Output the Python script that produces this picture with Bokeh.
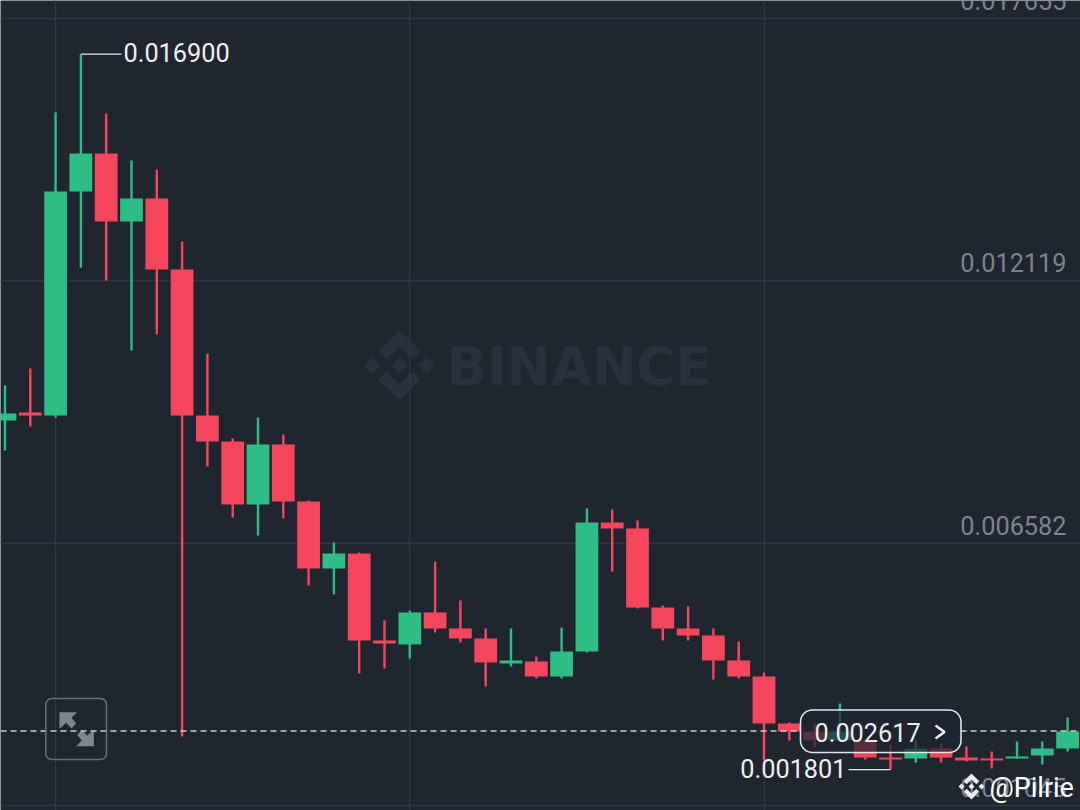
from bokeh.plotting import figure
from bokeh.models import Range1d, FixedTicker, BoxAnnotation
from bokeh.core.properties import value
from bokeh.embed import file_html
from bokeh.resources import INLINE

OPEN = [.009170,.009338,.009275,.014002,.014804,.013369,.013855,.012356,.009275,.008726,
        .007397,.008663,.007460,.006046,.006363,.004527,.004443,.005118,.004780,.004569,
        .004042,.004084,.003767,.004295,.007017,.006891,.005223,.004780,.004633,.004105,
        .003767,.002775,.002607,.002417,.002417,.002058,.002037,.002248,.002058,.002037,
        .002037,.002100,.002248]
CLOSE = [.009317,.009275,.014002,.014804,.013369,.013855,.012356,.009275,.008726,.007397,
         .008663,.007460,.006046,.006363,.004527,.004464,.005118,.004780,.004569,.004063,
         .004105,.003767,.004295,.007017,.006891,.005223,.004780,.004633,.004105,.003767,
         .002775,.002607,.002417,.002607,.002058,.002016,.002248,.002058,.001995,.001995,
         .002079,.002248,.002607]
HIGH = [.009908,.010267,.015669,.016900,.015648,.014656,.014467,.012947,.010584,.008790,
        .009233,.008874,.007481,.006595,.006384,.004949,.005160,.006194,.005371,.004780,
        .004780,.004189,.004801,.007313,.007291,.007059,.005266,.005245,.004780,.004506,
        .003852,.002797,.002775,.003198,.002438,.002332,.002417,.002353,.002290,.002185,
        .002396,.002396,.002902]
LOW = [.008537,.009043,.009233,.012398,.012124,.010647,.010985,.002501,.008199,.007123,
       .006743,.007102,.005688,.005498,.003831,.003936,.004147,.004696,.004485,.003556,
       .003978,.003725,.003725,.004274,.005983,.005202,.004527,.004527,.003704,.003725,
       .001995,.002417,.002269,.002396,.002016,.001801,.001952,.001952,.001974,.001826,
       .002037,.001910,.002185]
TICK_VALUES = [0.017655, 0.012119, 0.006582, 0.001045]
TICK_LABELS = ["0.017655", "0.012119", "0.006582", "0.001045"]
TIME_GRID = [2, 16, 30]
LAST_PRICE = 0.002617
HIGH_MARK = 0.016900
LOW_MARK = 0.001801

BG, GREEN, RED = "#1f2630", "#2ebd85", "#f6465d"
GRID, AXIS_TEXT, WM = "#303744", "#7b8390", "#2b313c"
FONT = value("Roboto")

# page pixel <-> data helpers, used only for the decorative overlays
def fx(px): return (px - 4.5) / 25.3
def fy(py): return 0.001045 + (805 - py) * 2.1103e-5

W, H = 1080, 810
p = figure(width=W, height=H, output_backend="svg", toolbar_location=None,
           x_range=Range1d(fx(0), fx(1080)), y_range=Range1d(fy(810), fy(0)),
           background_fill_color=BG, border_fill_color=BG, min_border=0,
           outline_line_color=None)
p.xaxis.visible = False
p.yaxis.visible = False
p.xgrid.ticker = FixedTicker(ticks=TIME_GRID)
p.ygrid.ticker = FixedTicker(ticks=TICK_VALUES)
for g in (p.xgrid[0], p.ygrid[0]):
    g.grid_line_color = GRID
    g.grid_line_width = 1.3

# Binance watermark
def logo(cx, cy, s):
    chevron = [(0, -35), (21, -14), (13, -6), (0, -19), (-13, -6), (-21, -14)]
    shapes = [chevron, [(a, -b) for a, b in chevron]]
    for dx in (-27, 0, 27):
        shapes.append([(dx, -8), (dx + 8, 0), (dx, 8), (dx - 8, 0)])
    return ([[fx(cx + a * s) for a, b in sh] for sh in shapes],
            [[fy(cy + b * s) for a, b in sh] for sh in shapes])

xs, ys = logo(399, 365, 1)
p.patches(xs, ys, fill_color=WM, line_color=None, level="image")
p.text([fx(446)], [fy(366)], text=["BINANCE"], text_color=WM, text_font=value("DejaVu Sans"),
       text_font_style="bold", text_font_size="53px", text_align="left",
       text_baseline="middle", level="image")

# candles
idx = list(range(len(OPEN)))
colors = [GREEN if c >= o else RED for o, c in zip(OPEN, CLOSE)]
p.segment(idx, LOW, idx, HIGH, line_color=colors, line_width=2.4)
p.vbar(x=idx, bottom=[min(a, b) for a, b in zip(OPEN, CLOSE)],
       top=[max(a, b) for a, b in zip(OPEN, CLOSE)], width=0.9,
       fill_color=colors, line_color=None)

# price-axis labels inside the plot
tx = [fx(1066)] * len(TICK_VALUES)
p.text(tx, TICK_VALUES, text=TICK_LABELS, text_color=AXIS_TEXT, text_font=FONT,
       text_font_size="25.3px", text_align="right", text_baseline="middle", y_offset=-18)

# high / low markers
p.line([3, fx(121)], [HIGH_MARK, HIGH_MARK], line_color="#e6e7e9", line_width=1.3)
p.text([fx(123)], [HIGH_MARK], text=["0.016900"], text_color="#f0f0f0", text_font=FONT,
       text_font_size="25.3px", text_align="left", text_baseline="middle", y_offset=-2,
       level="overlay")
p.line([fx(848), 35], [LOW_MARK, LOW_MARK], line_color="#e6e7e9", line_width=1.3)
p.text([fx(846)], [LOW_MARK], text=["0.001801"], text_color="#f0f0f0", text_font=FONT,
       text_font_size="25.3px", text_align="right", text_baseline="middle", y_offset=-1,
       level="overlay")

# expand icon
arrow = [(-17.2, -17), (0.5, -17), (-5.2, -11.4), (-0.5, -5.7), (-5.2, -0.7), (-10.5, -6.4), (-17.2, -0.4)]
ax = [[fx(76.2 + a) for a, b in arrow], [fx(76.2 - a) for a, b in arrow]]
ay = [[fy(728.7 + b) for a, b in arrow], [fy(728.7 - b) for a, b in arrow]]
p.patches(ax, ay, fill_color="#7f848e", line_color=None)

# last-price line, broken by the pill
p.multi_line([[fx(0), fx(800)], [fx(960), fx(1085)]], [[LAST_PRICE] * 2, [LAST_PRICE] * 2],
             line_color="#c9ccd1", line_width=1.5, line_dash="6 4")

p.add_layout(BoxAnnotation(left=45.3, right=106, top=698, bottom=759,
                           left_units="canvas", right_units="canvas", top_units="canvas",
                           bottom_units="canvas", fill_alpha=0, line_color="#6a707a",
                           line_width=1.5, line_alpha=1, border_radius=6))
p.add_layout(BoxAnnotation(left=800, right=960.5, top=709.5, bottom=752,
                           left_units="canvas", right_units="canvas", top_units="canvas",
                           bottom_units="canvas", fill_color=BG, fill_alpha=0.72,
                           line_color="#e2e4e7", line_width=1.6, line_alpha=1, border_radius=12))
p.text([fx(814)], [LAST_PRICE], text=["0.002617"], text_color="#eceded", text_font=FONT,
       text_font_size="25.3px", text_align="left", text_baseline="middle", y_offset=1,
       level="overlay")
p.line([fx(935), fx(944), fx(935)], [fy(725), fy(731.5), fy(738)], line_color="#eceded",
       line_width=2.6, level="overlay")

# author watermark
lx, ly = logo(971, 786, 0.37)
p.patches(lx, ly, fill_color="#eeeeee", line_color=None, level="overlay")
p.text([fx(989)], [fy(787)], text=["@Pilrie"], text_color="#ffffff", text_font=FONT,
       text_font_size="27px", text_align="left", text_baseline="middle", level="overlay")

open("out.html", "w").write(file_html(p, INLINE))
